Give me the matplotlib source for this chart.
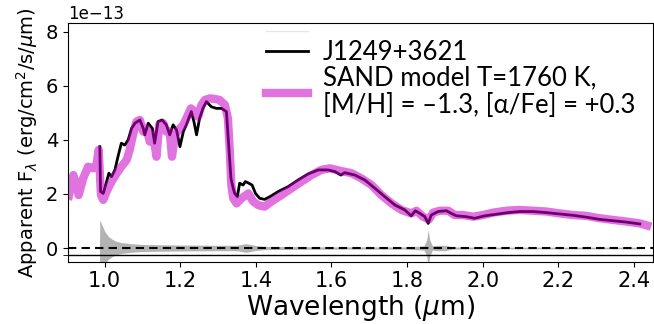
"""
Observed spectrum of J1249+3621 against the best SAND model
"""
import matplotlib
matplotlib.use('Agg')
import matplotlib.pyplot as plt
from matplotlib.lines import Line2D
import numpy as np

# observed spectrum (um, 1e-13 erg/cm2/s/um)
obs_wave = [0.987, 0.989, 0.996, 1.005, 1.011, 1.018, 1.027, 1.035, 1.044, 1.053,
            1.062, 1.071, 1.080, 1.093, 1.102, 1.106, 1.115, 1.126, 1.132, 1.141,
            1.152, 1.163, 1.172, 1.181, 1.190, 1.199, 1.208, 1.216, 1.229, 1.236,
            1.243, 1.251, 1.260, 1.269, 1.282, 1.295, 1.309, 1.322, 1.328, 1.334,
            1.340, 1.344, 1.351, 1.357, 1.366, 1.372, 1.381, 1.390, 1.399, 1.410,
            1.423, 1.437, 1.459, 1.485, 1.512, 1.538, 1.565, 1.591, 1.609, 1.625,
            1.635, 1.662, 1.688, 1.715, 1.741, 1.768, 1.794, 1.811, 1.822, 1.834,
            1.847, 1.856, 1.864, 1.882, 1.904, 1.917, 1.931, 1.957, 1.979, 2.005,
            2.036, 2.067, 2.098, 2.133, 2.169, 2.204, 2.239, 2.275, 2.310, 2.345,
            2.380, 2.416]
obs_flux = [3.75, 2.09, 2.02, 2.46, 2.77, 2.64, 2.89, 3.38, 3.88, 3.81,
            4.00, 4.43, 4.62, 4.74, 4.43, 4.19, 4.62, 4.43, 3.88, 4.68,
            4.74, 4.56, 4.19, 4.56, 4.37, 3.75, 4.31, 4.56, 5.05, 4.68,
            4.19, 4.80, 5.17, 5.42, 5.23, 5.17, 5.17, 5.05, 3.81, 2.58,
            2.21, 2.02, 1.90, 2.40, 2.33, 2.46, 2.40, 2.33, 2.02, 1.84,
            1.80, 1.90, 2.09, 2.27, 2.52, 2.74, 2.89, 2.89, 2.83, 2.70,
            2.79, 2.70, 2.52, 2.21, 1.90, 1.59, 1.41, 1.19, 1.38, 1.28,
            1.16, 0.91, 1.22, 1.35, 1.38, 1.28, 1.19, 1.16, 1.10, 1.19,
            1.25, 1.31, 1.35, 1.35, 1.31, 1.26, 1.21, 1.14, 1.06, 1.01,
            0.96, 0.89]

# uncertainty (plotted around zero)
err_wave = [0.986, 0.987, 0.990, 0.995, 1.000, 1.005, 1.010, 1.020, 1.030, 1.045,
            1.070, 1.100, 1.200, 1.300, 1.350, 1.365, 1.375, 1.385, 1.400, 1.420,
            1.600, 1.800, 1.845, 1.852, 1.856, 1.860, 1.867, 1.880, 1.900, 1.920,
            2.000, 2.200, 2.416]
err_vals = [0.00, 1.04, 0.95, 0.78, 0.62, 0.52, 0.42, 0.32, 0.25, 0.20,
            0.16, 0.13, 0.11, 0.10, 0.10, 0.14, 0.16, 0.13, 0.09, 0.06,
            0.04, 0.04, 0.08, 0.30, 0.67, 0.30, 0.08, 0.10, 0.10, 0.04,
            0.03, 0.03, 0.03]

# SAND model
mod_wave = [0.903, 0.917, 0.925, 0.931, 0.943, 0.956, 0.969, 0.978, 0.984, 0.990,
            0.996, 1.005, 1.018, 1.032, 1.044, 1.058, 1.066, 1.075, 1.084, 1.093,
            1.102, 1.111, 1.119, 1.128, 1.137, 1.144, 1.155, 1.163, 1.172, 1.178,
            1.186, 1.199, 1.208, 1.216, 1.228, 1.238, 1.247, 1.256, 1.265, 1.278,
            1.291, 1.304, 1.318, 1.326, 1.331, 1.335, 1.340, 1.349, 1.362, 1.380,
            1.393, 1.406, 1.423, 1.441, 1.468, 1.494, 1.521, 1.547, 1.573, 1.596,
            1.622, 1.653, 1.679, 1.706, 1.732, 1.759, 1.785, 1.811, 1.825, 1.842,
            1.858, 1.869, 1.887, 1.909, 1.926, 1.948, 1.975, 2.001, 2.028, 2.063,
            2.098, 2.133, 2.169, 2.204, 2.239, 2.275, 2.310, 2.345, 2.380, 2.416,
            2.446]
mod_flux = [1.78, 2.70, 2.33, 1.96, 2.58, 3.01, 2.95, 3.07, 3.63, 1.96,
            1.78, 2.09, 2.46, 2.77, 3.01, 3.26, 3.63, 4.19, 4.68, 4.74,
            4.31, 4.43, 3.94, 4.19, 3.38, 4.56, 4.62, 4.31, 4.31, 3.38,
            4.19, 4.43, 4.56, 4.80, 5.17, 5.05, 4.86, 5.30, 5.48, 5.54,
            5.52, 5.48, 5.30, 4.80, 3.57, 2.33, 1.84, 1.65, 1.84, 2.02,
            1.72, 1.59, 1.53, 1.72, 1.96, 2.21, 2.46, 2.70, 2.89, 2.95,
            2.86, 2.77, 2.58, 2.33, 1.96, 1.65, 1.41, 1.28, 1.38, 1.16,
            1.06, 1.31, 1.38, 1.38, 1.22, 1.22, 1.16, 1.22, 1.31, 1.38,
            1.41, 1.38, 1.35, 1.28, 1.22, 1.19, 1.10, 1.04, 0.98, 0.91,
            0.79]

scale = 1e-13
model_color = (0.78, 0.0, 0.78)

fig = plt.figure(figsize=(6.54, 3.24), dpi=100)
ax = fig.add_axes([0.1035, 0.1923, 0.8945, 0.7367])

err = np.array(err_vals) * scale
ax.fill_between(err_wave, -err, err, color='0.7', lw=0)
ax.axhline(0, color='k', ls='--', lw=1.5, dashes=(4, 2.5))
ax.axhline(-0.25 * scale, color='k', lw=1)

ax.plot(obs_wave, np.array(obs_flux) * scale, color='k', lw=2)
ax.plot(mod_wave, np.array(mod_flux) * scale, color=model_color, alpha=0.55,
        lw=6, solid_capstyle='butt')

ax.set_xlim(0.902, 2.45)
ax.set_ylim(-0.507 * scale, 8.33 * scale)
ax.set_yticks(np.array([0, 2, 4, 6, 8]) * scale)
ax.set_yticks([-0.25 * scale], minor=True)
ax.tick_params(which='both', length=3.5)
ax.tick_params(axis='x', labelsize=15)
ax.tick_params(axis='y', labelsize=14)
ax.yaxis.get_offset_text().set_fontsize(12)

ax.set_xlabel(r'Wavelength ($\mu$m)', fontsize=19, labelpad=1)
ax.set_ylabel(r'Apparent F$_\lambda$ (erg/cm$^2$/s/$\mu$m)', fontsize=14, labelpad=4)

legend_font = {'family': ['Lato', 'DejaVu Sans'], 'size': 18.5}

# faint leftover handle above the main legend
leg0 = ax.legend([Line2D([], [], color='0.9', lw=1)], [''], loc='center left',
                 bbox_to_anchor=(0.299, 0.962), frameon=False,
                 handlelength=1.63, prop=legend_font)
ax.add_artist(leg0)

handles = [Line2D([], [], color='k', lw=2),
           Line2D([], [], color=model_color, alpha=0.55, lw=6)]
labels = ['J1249+3621', 'SAND model T=1760 K,\n[M/H] = \u20131.3, [\u03b1/Fe] = +0.3']
leg = ax.legend(handles, labels, loc='upper left', bbox_to_anchor=(0.299, 1.025),
                frameon=False, handlelength=1.63, handletextpad=0.58,
                prop=legend_font, labelspacing=0.0)
for t in leg.get_texts():
    t.set_linespacing(1.15)

fig.savefig('out.png', dpi=100)
